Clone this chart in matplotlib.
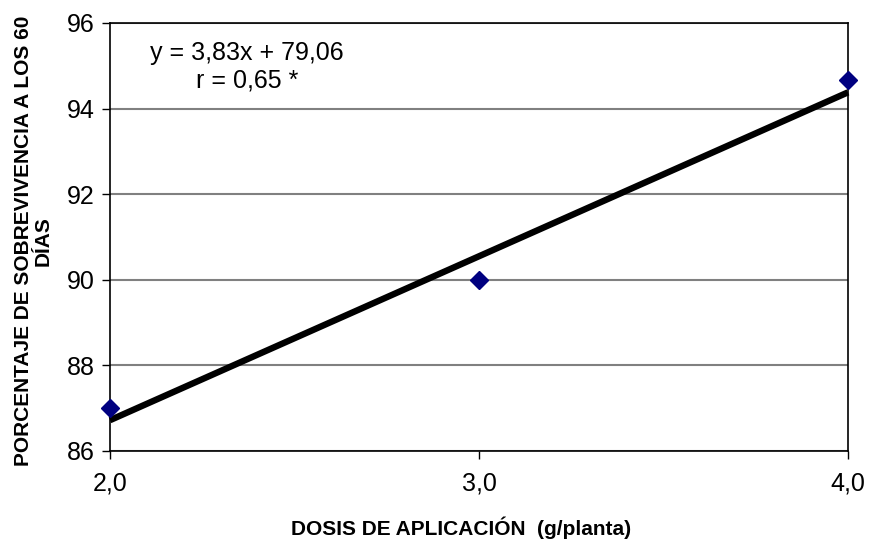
import matplotlib
matplotlib.use("Agg")
import matplotlib.pyplot as plt
import numpy as np

plt.rcParams['font.family'] = ['Liberation Sans', 'DejaVu Sans']

# Data
dosis = [2.0, 3.0, 4.0]
sobrevivencia = [87.0, 90.0, 94.67]
slope = 3.83
intercept = 79.06
x_ticks = [2.0, 3.0, 4.0]
x_tick_labels = ["2,0", "3,0", "4,0"]
y_ticks = [86, 88, 90, 92, 94, 96]
equation_text = "y = 3,83x + 79,06\nr = 0,65 *"

W, H = 869, 540
fig = plt.figure(figsize=(W / 100, H / 100), dpi=100)
ax = fig.add_axes([110 / W, 1 - 451 / H, (848 - 110) / W, (451 - 23) / H])

ax.set_xlim(2.0, 4.0)
ax.set_ylim(86, 96)

ax.yaxis.grid(True, color='#808080', linewidth=1.5)
ax.set_axisbelow(True)

xfit = np.array([dosis[0], dosis[-1]])
ax.plot(xfit, slope * xfit + intercept, color='black', linewidth=4.6,
        solid_capstyle='butt', zorder=3, clip_on=False)
ax.plot(dosis, sobrevivencia, linestyle='none', marker='D', markersize=9.5,
        color='#000080', markeredgecolor='#000080', zorder=4, clip_on=False)

ax.set_xticks(x_ticks)
ax.set_xticklabels(x_tick_labels)
ax.set_yticks(y_ticks)
ax.tick_params(axis='both', direction='out', length=6, width=1, labelsize=18,
               color='black')
ax.tick_params(axis='y', pad=5)
ax.tick_params(axis='x', pad=9)

for s in ax.spines.values():
    s.set_color('black')
    s.set_linewidth(1.2)

ax.text(0.186, 0.897, equation_text, transform=ax.transAxes, ha='center',
        va='center', fontsize=18, linespacing=1.2)

fig.text(461 / W, 1 - 528 / H, "DOSIS DE APLICACIÓN  (g/planta)", fontsize=15,
         fontweight='bold', ha='center', va='center')
fig.text(33 / W, 1 - 241 / H, "PORCENTAJE DE SOBREVIVENCIA A LOS 60\nDÍAS",
         fontsize=15, fontweight='bold', ha='center', va='center',
         rotation=90, linespacing=1.05, multialignment='center')

fig.savefig("out.png", dpi=100, facecolor='white')
